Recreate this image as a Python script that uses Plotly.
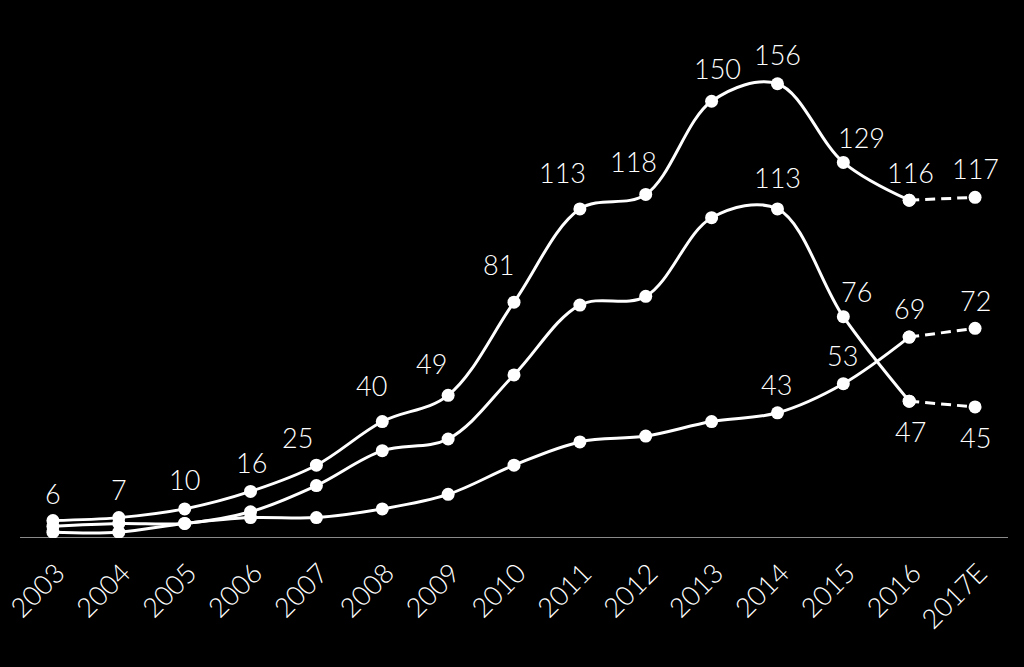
import plotly.graph_objects as go

years = ["2003", "2004", "2005", "2006", "2007", "2008", "2009", "2010",
         "2011", "2012", "2013", "2014", "2015", "2016", "2017E"]
total = [6, 7, 10, 16, 25, 40, 49, 81, 113, 118, 150, 156, 129, 116, 117]
middle = [4, 5, 5, 9, 18, 30, 34, 56, 80, 83, 110, 113, 76, 47, 45]
bottom = [2, 2, 5, 7, 7, 10, 15, 25, 33, 35, 40, 43, 53, 69, 72]

# label offsets in pixels (dx, dy); None = no label
total_off = [(0, 27), (0, 28), (0, 29), (1, 29), (-19, 28), (-11, 36), (-17, 32),
             (-16, 38), (-17, 36), (-12, 33), (6, 33), (0, 29), (18, 25), (1, 28), (0, 29)]
middle_off = [None] * 11 + [(0, 31), (13, 25), (1, -30), (0, -31)]
bottom_off = [None] * 11 + [(-1, 28), (-1, 28), (0, 29), (0, 28)]

FONT = "Lato"
WHITE = "white"
n_solid = len(years) - 1  # solid through 2016, dashed to 2017E

fig = go.Figure()
for series in (bottom, middle, total):
    fig.add_trace(go.Scatter(
        x=years[:n_solid], y=series[:n_solid], mode="lines+markers",
        line=dict(color=WHITE, width=3, shape="spline", smoothing=1.0),
        marker=dict(color=WHITE, size=13), showlegend=False, hoverinfo="skip"))
    fig.add_trace(go.Scatter(
        x=years[n_solid - 1:], y=series[n_solid - 1:], mode="lines+markers",
        line=dict(color=WHITE, width=3, dash="10px,6px"),
        marker=dict(color=WHITE, size=13), showlegend=False, hoverinfo="skip"))

annotations = []
for series, offs in ((total, total_off), (middle, middle_off), (bottom, bottom_off)):
    for i, (v, o) in enumerate(zip(series, offs)):
        if o is None:
            continue
        annotations.append(dict(
            x=i, y=v, text=str(v), showarrow=False, xshift=o[0], yshift=o[1],
            font=dict(family=FONT, size=27, color=WHITE, weight=300),
            xanchor="center", yanchor="middle"))

fig.update_layout(
    width=1024, height=667,
    paper_bgcolor="black", plot_bgcolor="black",
    margin=dict(l=20, r=16, t=43, b=129),
    annotations=annotations,
    shapes=[dict(type="line", xref="paper", yref="y", x0=0, x1=1, y0=0, y1=0,
                 line=dict(color="#8a8a8a", width=2), layer="below")],
    xaxis=dict(type="category", range=[-0.5, 14.5], showgrid=False, zeroline=False,
               showline=False, automargin=False, tickangle=-45,
               ticklabelstandoff=13, ticklabelshift=4,
               tickfont=dict(family=FONT, size=27, color=WHITE, weight=300)),
    yaxis=dict(range=[0, 170], showgrid=False, zeroline=False, showline=False,
               showticklabels=False, automargin=False),
)

fig.write_html("out.html", config={"displayModeBar": False},
               post_script="document.body.style.margin='0';document.body.style.background='black';")
